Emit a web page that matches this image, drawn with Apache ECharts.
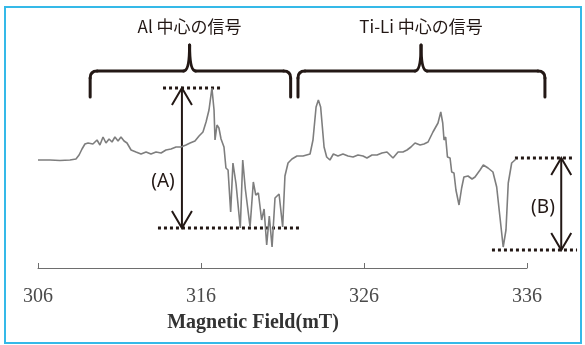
<!DOCTYPE html>
<html>
<head>
<meta charset="utf-8">
<script src="https://cdn.jsdelivr.net/npm/echarts@6/dist/echarts.min.js"></script>
<style>
  html, body { margin: 0; padding: 0; background: #fff; }
  #chart { width: 585px; height: 345px; }
</style>
</head>
<body>
<div id="chart"></div>
<script>
// EPR spectrum (field in mT, signal in arbitrary units)
const fieldMT = [
  306.00, 306.74, 307.35, 307.96, 308.33, 308.52, 308.70, 308.88, 309.07, 309.19,
  309.37, 309.62, 309.80, 309.99, 310.17, 310.36, 310.54, 310.72, 310.91, 311.09,
  311.28, 311.46, 311.71, 312.01, 312.32, 312.63, 312.93, 313.24, 313.55, 313.85,
  314.16, 314.47, 314.77, 315.08, 315.33, 315.63, 315.88, 316.12, 316.31, 316.49,
  316.67, 316.80, 316.86, 316.98, 317.10, 317.23, 317.41, 317.53, 317.66, 317.82,
  317.96, 318.15, 318.25, 318.41, 318.56, 318.72, 318.84, 319.01, 319.21, 319.36,
  319.52, 319.72, 319.87, 320.03, 320.19, 320.36, 320.54, 320.79, 321.01, 321.15,
  321.34, 321.58, 321.89, 322.26, 322.69, 322.87, 323.06, 323.20, 323.34, 323.55,
  323.71, 323.91, 324.12, 324.40, 324.71, 325.02, 325.33, 325.63, 325.94, 326.18,
  326.49, 326.80, 327.10, 327.41, 327.78, 328.09, 328.39, 328.64, 328.88, 329.13,
  329.44, 329.68, 329.93, 330.23, 330.54, 330.71, 330.83, 330.91, 331.01, 331.12,
  331.28, 331.38, 331.52, 331.64, 331.83, 331.99, 332.13, 332.38, 332.63, 332.81,
  333.12, 333.32, 333.61, 333.91, 334.14, 334.34, 334.54, 334.71, 334.85, 335.06,
  335.33
];
const signal = [
  0, 0, -0.5, 0, 1, 5, 11, 16, 17, 19,
  16, 20, 15, 23, 17, 21, 18, 23, 19, 23,
  19, 17, 10, 8, 6, 8, 6, 8, 7, 10,
  11, 13, 13, 15, 17, 19, 24, 28, 38, 50,
  72, 50, 20, 35, 32, 21, 13, -8, -10, -52,
  -3, -24, -26, -68, 0, -29, -30, -67, -22, -35,
  -33, -60, -49, -85, -56, -87, -38, -34, -67, -16,
  -3, 1, 4, 4, 6, 20, 53, 60, 53, 13,
  3, 0, 6, 4, 6, 4, 3, 5, 4, 2,
  5, 5, 7, 8, 2, 8, 8, 10, 13, 17,
  15, 16, 18, 28, 37, 48, 37, 20, 23, 3,
  2, -12, -13, -30, -45, -28, -17, -16, -19, -17,
  -10, -5, -8, -12, -27, -57, -87, -70, -23, -3,
  1
];

// braces over the two signal regions: [start, tip, end] in mT
const regionNames = ['Al 中心の信号', 'Ti-Li 中心の信号'];
const regionSpans = [[309.2, 315.3, 321.5], [321.95, 329.5, 337.1]];
const braceBarY = 89, braceEndY = 63, braceTipY = 115, regionLabelY = 133;

// peak-to-peak markers
const heightNames = ['(A)', '(B)'];
const heightArrowX = [314.83, 338.1];
const heightTop = [72, 2];
const heightBottom = [-68, -90];
const topRuleX = [[313.67, 317.29], [335.26, 338.94]];
const bottomRuleX = [[313.36, 322.07], [333.85, 339.07]];
const heightLabelX = [313.67, 336.98];
const heightLabelY = [-22, -48];

const ink = '#231815';
const chart = echarts.init(document.getElementById('chart'));

chart.setOption({
  animation: false,
  grid: { left: 38, right: 58, top: 80, bottom: 77 },
  xAxis: {
    type: 'value',
    min: 306,
    max: 336,
    interval: 10,
    axisLine: { onZero: false, lineStyle: { color: '#6e6e6e', width: 1 } },
    axisTick: { inside: true, length: 5, lineStyle: { color: '#6e6e6e' } },
    axisLabel: {
      margin: 19,
      color: '#4a4a4a',
      fontFamily: 'Liberation Serif',
      fontSize: 20
    },
    splitLine: { show: false }
  },
  yAxis: {
    type: 'value',
    min: -108,
    max: 80,
    show: false
  },
  series: [{
    type: 'line',
    data: fieldMT.map((f, i) => [f, signal[i]]),
    showSymbol: false,
    lineStyle: { color: '#7e7e7e', width: 1.6 }
  }]
});

function px(x, y) {
  return chart.convertToPixel({ gridIndex: 0 }, [x, y]);
}

const graphics = [];
const braceStyle = { fill: null, stroke: ink, lineWidth: 3, lineCap: 'round' };

function seg(x1, y1, x2, y2) {
  graphics.push({ type: 'line', shape: { x1, y1, x2, y2 }, style: braceStyle });
}
function curve(x1, y1, cpx1, cpy1, x2, y2) {
  graphics.push({ type: 'bezierCurve', shape: { x1, y1, cpx1, cpy1, x2, y2 }, style: braceStyle });
}

// frame
graphics.push({
  type: 'rect',
  shape: { x: 5, y: 7, width: 576, height: 336 },
  style: { fill: 'none', stroke: '#35b9e8', lineWidth: 2 }
});

// braces + region titles
regionSpans.forEach((span, i) => {
  const [a, m, b] = span.map(v => px(v, braceBarY)[0]);
  const y0 = px(0, braceBarY)[1];
  const y1 = px(0, braceEndY)[1];
  const yt = px(0, braceTipY)[1];
  seg(a, y1, a, y0 + 7);
  curve(a, y0 + 7, a, y0, a + 7, y0);
  seg(a + 7, y0, m - 6, y0);
  curve(m - 6, y0, m, y0, m, yt);
  curve(m, yt, m, y0, m + 6, y0);
  seg(m + 6, y0, b - 7, y0);
  curve(b - 7, y0, b, y0, b, y0 + 7);
  seg(b, y0 + 7, b, y1);
  const t = px(span[1], regionLabelY);
  graphics.push({
    type: 'text',
    style: {
      text: regionNames[i], x: t[0], y: t[1],
      align: 'center', verticalAlign: 'middle',
      fontFamily: 'Noto Sans CJK JP', fontSize: 17, fill: ink
    }
  });
});

// (A), (B) height markers
heightNames.forEach((name, i) => {
  const top = px(heightArrowX[i], heightTop[i]);
  const bot = px(heightArrowX[i], heightBottom[i]);
  const t0 = px(topRuleX[i][0], heightTop[i]), t1 = px(topRuleX[i][1], heightTop[i]);
  const b0 = px(bottomRuleX[i][0], heightBottom[i]), b1 = px(bottomRuleX[i][1], heightBottom[i]);
  [[t0, t1], [b0, b1]].forEach(([p, q]) => {
    graphics.push({
      type: 'line',
      shape: { x1: p[0], y1: p[1], x2: q[0], y2: q[1] },
      style: { stroke: ink, lineWidth: 3, lineDash: [3, 3] }
    });
  });
  graphics.push({
    type: 'line',
    shape: { x1: top[0], y1: top[1], x2: bot[0], y2: bot[1] },
    style: { stroke: ink, lineWidth: 2 }
  });
  graphics.push({
    type: 'polyline',
    shape: { points: [[top[0] - 10, top[1] + 17], top, [top[0] + 10, top[1] + 17]] },
    style: { fill: null, stroke: ink, lineWidth: 2 }
  });
  graphics.push({
    type: 'polyline',
    shape: { points: [[bot[0] - 10, bot[1] - 17], bot, [bot[0] + 10, bot[1] - 17]] },
    style: { fill: null, stroke: ink, lineWidth: 2 }
  });
  const l = px(heightLabelX[i], heightLabelY[i]);
  graphics.push({
    type: 'text',
    style: {
      text: name, x: l[0], y: l[1],
      align: 'center', verticalAlign: 'middle',
      fontFamily: 'Noto Sans', fontSize: 19, fill: ink
    }
  });
});

// axis title
graphics.push({
  type: 'text',
  style: {
    text: 'Magnetic Field(mT)', x: 253, y: 323,
    align: 'center', verticalAlign: 'middle',
    fontFamily: 'Liberation Serif', fontWeight: 'bold', fontSize: 20, fill: '#333'
  }
});

chart.setOption({ graphic: graphics });
</script>
</body>
</html>
